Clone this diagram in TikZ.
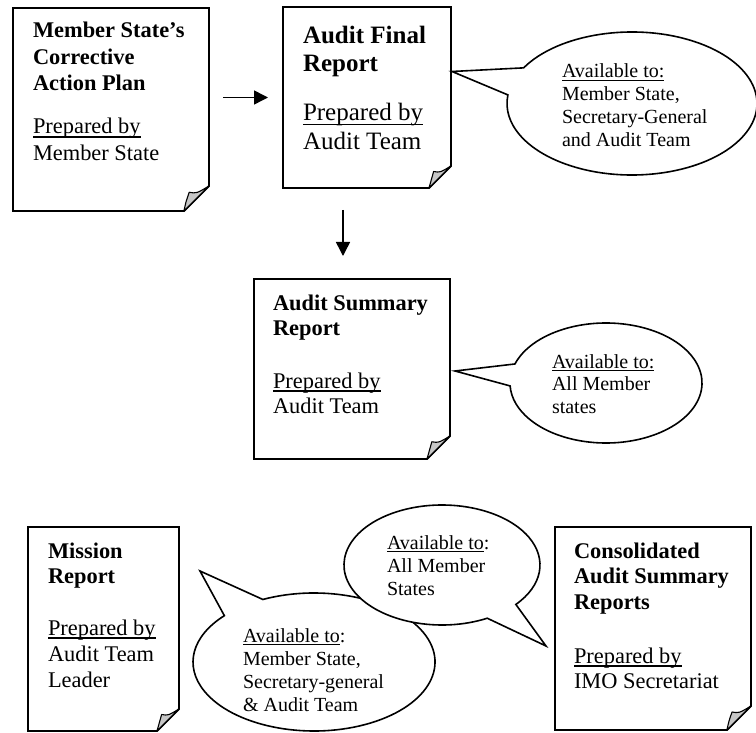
\documentclass[tikz,border=0pt]{standalone}
\usepackage{fontspec}
\setmainfont{Liberation Serif}
\usetikzlibrary{arrows.meta,fit,calc}

\newcommand\myul[1]{\setbox0\hbox{#1}\rlap{\rule[-0.16em]{\wd0}{0.055em}}\box0}
\newcommand\tlines[3]{\fontsize{#1}{#2}\selectfont\begin{tabular}[t]{@{}l@{}}#3\end{tabular}}

\tikzset{
  boxline/.style={line width=1.9pt, line join=miter, fill=white},
  flapline/.style={line width=1.1pt, fill=black!22, line join=round},
  callout/.style={line width=1.6pt, fill=white, line join=miter},
  txt/.style={anchor=base west, inner sep=0pt, outer sep=0pt},
  arr/.style={line width=1.5pt, -{Triangle[length=14pt,width=14pt]}},
}

% #1 name, #2 north-west, #3 south-east, #4 fold size
\newcommand\docbox[4]{%
  \path (#2) coordinate (#1nw) (#3) coordinate (#1se);
  \node[fit=(#1nw)(#1se), inner sep=0pt, outer sep=0pt] (#1) {};
  \draw[boxline] (#1.north west) -- (#1.north east) -- ([yshift=#4pt]#1.south east)
     -- ([xshift=-#4pt]#1.south east) -- (#1.south west) -- cycle;
  \draw[flapline] ([xshift=-#4pt]#1.south east)
     .. controls ([xshift=-0.93*#4pt, yshift=0.35*#4pt]#1.south east)
     .. ([xshift=-0.79*#4pt, yshift=0.75*#4pt]#1.south east)
     .. controls ([xshift=-0.5*#4pt, yshift=0.7*#4pt]#1.south east)
     .. ([yshift=#4pt]#1.south east) -- cycle;
}

\begin{document}
\begin{tikzpicture}[x=1pt, y=-1pt]
\useasboundingbox (0,0) rectangle (756,733);

% ---------- document boxes ----------
\docbox{b1}{13,8}{209,211}{25}
\docbox{b2}{283,7}{451,188}{22}
\docbox{b3}{254,279}{450,459}{23}
\docbox{b4}{28,527}{179,731}{22}
\docbox{b5}{555,527}{751,730}{24}

% box texts
\node[txt] (b1t) at (33,38) {\tlines{22.4}{26.5}{\textbf{Member State's}\\\textbf{Corrective}\\\textbf{Action Plan}}};
\node[txt] (b1p) at (33,134) {\tlines{22.4}{27}{\myul{Prepared by}\\Member State}};

\node[txt] (b2t) at (303,44) {\tlines{25}{28}{\textbf{Audit Final}\\\textbf{Report}}};
\node[txt] (b2p) at (303,121) {\tlines{25}{29}{\myul{Prepared by}\\Audit Team}};

\node[txt] (b3t) at (273,310) {\tlines{22.4}{25.5}{\textbf{Audit Summary}\\\textbf{Report}}};
\node[txt] (b3p) at (273,388) {\tlines{22.4}{25.5}{\myul{Prepared by}\\Audit Team}};

\node[txt] (b4t) at (48,558) {\tlines{22.4}{25.5}{\textbf{Mission}\\\textbf{Report}}};
\node[txt] (b4p) at (48,635) {\tlines{22.4}{26}{\myul{Prepared by}\\Audit Team\\Leader}};

\node[txt] (b5t) at (574,558) {\tlines{22.4}{25.5}{\textbf{Consolidated}\\\textbf{Audit Summary}\\\textbf{Reports}}};
\node[txt] (b5p) at (574,663) {\tlines{22.4}{25}{\myul{Prepared by}\\IMO Secretariat}};

% ---------- arrows ----------
\draw[arr, shorten <=14pt, shorten >=15pt] (b2.west -| b1.east) -- (b2.west);
\coordinate (ax) at (343,0);
\draw[arr, shorten <=22pt, shorten >=23pt] (ax |- b2.south) -- (ax |- b3.north);

% ---------- callouts ----------
\draw[callout] (452,71.5) -- ($(632,103.5)+(209.9:125 and 71.5)$)
  arc[start angle=209.9, end angle=546.9, x radius=125, y radius=71.5] -- cycle;
\node[txt] (c1) at (562,78) {\tlines{20}{23}{\myul{Available to:}\\Member State,\\Secretary-General\\and Audit Team}};

\draw[callout] (455,371) -- ($(606,383)+(198.5:96 and 60)$)
  arc[start angle=198.5, end angle=537.2, x radius=96, y radius=60] -- cycle;
\node[txt] (c2) at (552,368) {\tlines{20}{22.5}{\myul{Available to:}\\All Member\\states}};

\draw[callout] (200,571) -- ($(314,662)+(245:121 and 69)$)
  arc[start angle=245, end angle=582.2, x radius=121, y radius=69] -- cycle;
\node[txt] (c3) at (243,642) {\tlines{20}{23}{\myul{Available to}:\\Member State,\\Secretary-general\\\& Audit Team}};

\draw[callout] (546,646) -- ($(442,565)+(62.5:98 and 60)$)
  arc[start angle=62.5, end angle=401.1, x radius=98, y radius=60] -- cycle;
\node[txt] (c4) at (387,549) {\tlines{20}{23}{\myul{Available to}:\\All Member\\States}};

\end{tikzpicture}
\end{document}
